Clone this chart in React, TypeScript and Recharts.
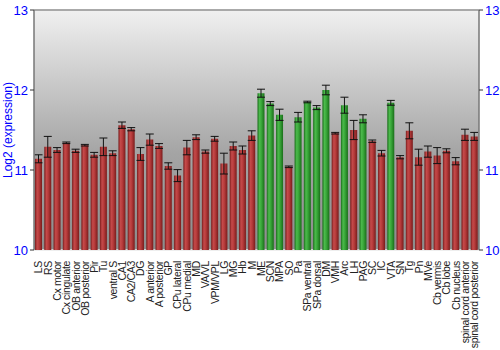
import { Bar, BarChart, CartesianGrid, Cell, ErrorBar, ReferenceLine, XAxis, YAxis } from "recharts";

const regions = [
  "LS", "RS", "Cx motor", "Cx cingulate", "OB anterior", "OB posterior", "Pir", "Tu",
  "ventral S", "CA1", "CA2/CA3", "DG", "A anterior", "A posterior", "GP", "CPu lateral",
  "CPu medial", "MD", "VA/VL", "VPM/VPL", "LG", "MG", "Hb", "M", "ME", "SCN", "MPA", "SO",
  "Pa", "SPa ventral", "SPa dorsal", "DM", "VMH", "Arc", "LH", "PAG", "SC", "IC", "VTA",
  "SN", "Tg", "Pn", "MVe", "Cb vermis", "Cb lobe", "Cb nucleus", "spinal cord anterior",
  "spinal cord posterior",
];

const expression = [
  11.14, 11.29, 11.25, 11.34, 11.24, 11.31, 11.19, 11.29,
  11.21, 11.56, 11.51, 11.2, 11.38, 11.3, 11.05, 10.93,
  11.28, 11.41, 11.23, 11.39, 11.08, 11.3, 11.25, 11.43, 11.96, 11.83, 11.69, 11.04,
  11.66, 11.85, 11.78, 12.0, 11.46, 11.81, 11.5, 11.64, 11.36, 11.21, 11.84,
  11.16, 11.49, 11.16, 11.23, 11.18, 11.24, 11.11, 11.44,
  11.42,
];

const stdErr = [
  0.05, 0.13, 0.03, 0.01, 0.02, 0.01, 0.03, 0.11,
  0.03, 0.04, 0.02, 0.08, 0.07, 0.03, 0.04, 0.075,
  0.09, 0.03, 0.02, 0.03, 0.13, 0.05, 0.05, 0.06, 0.05, 0.025, 0.07, 0.01,
  0.06, 0.01, 0.025, 0.06, 0.01, 0.1, 0.12, 0.05, 0.015, 0.035, 0.03,
  0.02, 0.1, 0.1, 0.07, 0.1, 0.025, 0.045, 0.07,
  0.05,
];

const enriched = ["ME", "SCN", "MPA", "Pa", "SPa ventral", "SPa dorsal", "DM", "Arc", "PAG", "VTA"];

const yTicks = [10, 11, 12, 13];

const data = regions.map((name, i) => ({ name, value: expression[i], err: stdErr[i] }));

const blue = "#0000ff";
const font = "Liberation Sans, Arial, sans-serif";
const tickFont = { fill: blue, fontSize: 13, fontFamily: font };

function RegionTick({ x, y, payload }: any) {
  return (
    <g transform={`translate(${x},${y})`}>
      <text
        transform="rotate(-90)"
        x={-3}
        dy="0.36em"
        textAnchor="end"
        fill="#222"
        fontSize={10.5}
        letterSpacing={-0.35}
        fontFamily={font}
      >
        {payload.value}
      </text>
    </g>
  );
}

export default function App() {
  return (
    <div style={{ position: "absolute", left: 0, top: 0, width: 500, height: 350, background: "#fff" }}>
      <BarChart
        width={500}
        height={350}
        data={data}
        margin={{ top: 10, right: 0, bottom: 0, left: 0 }}
        barCategoryGap={1}
      >
        <defs>
          <linearGradient id="bg" x1="0" y1="0" x2="0" y2="1">
            <stop offset="0%" stopColor="#f0f0f0" />
            <stop offset="60%" stopColor="#a4a4a4" />
            <stop offset="100%" stopColor="#8c8c8c" />
          </linearGradient>
          <linearGradient id="red" x1="0" y1="0" x2="1" y2="0">
            <stop offset="0%" stopColor="#7a1c1c" />
            <stop offset="30%" stopColor="#c44a4a" />
            <stop offset="55%" stopColor="#b83c3c" />
            <stop offset="100%" stopColor="#7a1c1c" />
          </linearGradient>
          <linearGradient id="green" x1="0" y1="0" x2="1" y2="0">
            <stop offset="0%" stopColor="#1a6e1a" />
            <stop offset="30%" stopColor="#4cba4c" />
            <stop offset="55%" stopColor="#3aa83a" />
            <stop offset="100%" stopColor="#1a6e1a" />
          </linearGradient>
        </defs>
        <CartesianGrid vertical={false} fill="url(#bg)" stroke="#e8e8e8" strokeWidth={1.5} />
        <XAxis
          dataKey="name"
          interval={0}
          height={100}
          tick={<RegionTick />}
          tickLine={false}
          axisLine={false}
        />
        <YAxis
          yAxisId="left"
          domain={[10, 13]}
          ticks={yTicks}
          allowDataOverflow
          width={34}
          tick={tickFont}
          tickSize={4}
          tickLine={{ stroke: "#333" }}
          axisLine={{ stroke: "#777", strokeWidth: 1.5 }}
          label={{
            value: "Log2 (expression)",
            angle: -90,
            position: "insideLeft",
            offset: 0,
            dx: 8,
            style: { fill: blue, fontSize: 12, textAnchor: "middle", fontFamily: font },
          }}
        />
        <YAxis
          yAxisId="right"
          orientation="right"
          domain={[10, 13]}
          ticks={yTicks}
          allowDataOverflow
          width={21}
          tick={tickFont}
          tickSize={4}
          tickLine={{ stroke: "#333" }}
          axisLine={{ stroke: "#777", strokeWidth: 1.5 }}
        />
        <ReferenceLine yAxisId="left" y={13} stroke="#666" strokeWidth={1} />
        <Bar yAxisId="left" dataKey="value" isAnimationActive={false}>
          {data.map((d) => (
            <Cell key={d.name} fill={enriched.includes(d.name) ? "url(#green)" : "url(#red)"} />
          ))}
          <ErrorBar dataKey="err" width={4} stroke="#111" strokeWidth={1} />
        </Bar>
      </BarChart>
    </div>
  );
}
